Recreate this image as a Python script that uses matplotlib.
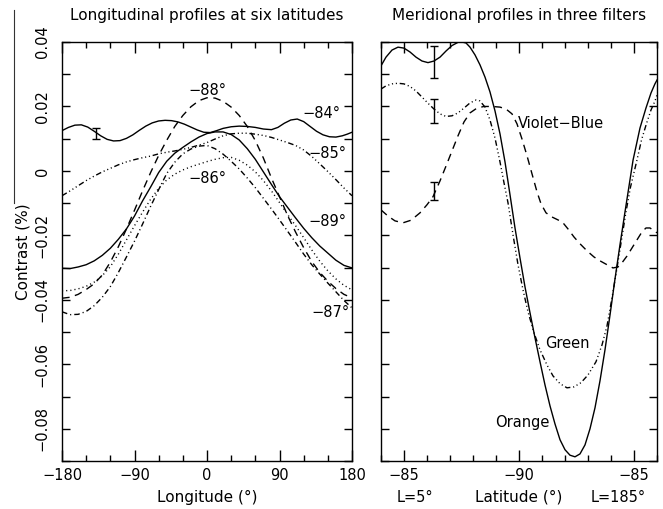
import numpy as np
import matplotlib.pyplot as plt
from matplotlib.ticker import MultipleLocator, FixedLocator, FuncFormatter
from matplotlib.lines import Line2D

# ---- longitudinal profiles: contrast vs longitude ----
lon = list(range(-180, 181, 10))

lon84 = [-180, -172, -164, -156, -148, -140, -132, -124, -116, -108, -100, -92, -84, -76,
         -68, -60, -52, -44, -36, -28, -20, -12, -4, 4, 12, 20, 30, 40, 50, 60, 70, 80,
         88, 96, 104, 112, 120, 128, 136, 144, 152, 160, 168, 174, 180]
c84 = [0.0125, 0.0135, 0.0142, 0.0143, 0.0136, 0.0123, 0.0109, 0.0098, 0.0093, 0.0094,
       0.0101, 0.0112, 0.0126, 0.0139, 0.0149, 0.0155, 0.0157, 0.0156, 0.0152, 0.0145,
       0.0136, 0.0127, 0.0120, 0.0119, 0.0125, 0.0132, 0.0137, 0.0139, 0.0138, 0.0135,
       0.0130, 0.0128, 0.0135, 0.0148, 0.0158, 0.0161, 0.0153, 0.0138, 0.0123, 0.0112,
       0.0106, 0.0105, 0.0109, 0.0114, 0.0120]

c85 = [-0.0077, -0.0062, -0.0046, -0.0030, -0.0016, -0.0003, 0.0008, 0.0019, 0.0028,
       0.0035, 0.0041, 0.0046, 0.0053, 0.0058, 0.0062, 0.0067, 0.0073, 0.0080, 0.0088,
       0.0099, 0.0109, 0.0115, 0.0117, 0.0117, 0.0114, 0.0110, 0.0104, 0.0096, 0.0088,
       0.0079, 0.0065, 0.0045, 0.0022, -0.0002, -0.0027, -0.0053, -0.0077]

c86 = [-0.0372, -0.0371, -0.0366, -0.0358, -0.0345, -0.0325, -0.0297, -0.0258, -0.0214,
       -0.0170, -0.0128, -0.0088, -0.0054, -0.0028, -0.0010, 0.0003, 0.0013, 0.0021,
       0.0029, 0.0036, 0.0041, 0.0042, 0.0033, 0.0018, -0.0003, -0.0030, -0.0062,
       -0.0098, -0.0135, -0.0170, -0.0207, -0.0245, -0.0280, -0.0310, -0.0335, -0.0355,
       -0.0369]

c87 = [-0.0437, -0.0446, -0.0445, -0.0436, -0.0418, -0.0392, -0.0359, -0.0315, -0.0267,
       -0.0218, -0.0165, -0.0110, -0.0058, -0.0008, 0.0027, 0.0053, 0.0068, 0.0077,
       0.0079, 0.0069, 0.0052, 0.0030, 0.0006, -0.0022, -0.0052, -0.0085, -0.0118,
       -0.0152, -0.0187, -0.0222, -0.0258, -0.0291, -0.0320, -0.0348, -0.0375, -0.0402,
       -0.0425]

c88 = [-0.0395, -0.0392, -0.0383, -0.0368, -0.0350, -0.0323, -0.0283, -0.0235, -0.0180,
       -0.0122, -0.0062, -0.0005, 0.0048, 0.0095, 0.0138, 0.0172, 0.0199, 0.0218, 0.0227,
       0.0226, 0.0216, 0.0198, 0.0172, 0.0138, 0.0094, 0.0040, -0.0022, -0.0080, -0.0138,
       -0.0190, -0.0238, -0.0281, -0.0315, -0.0342, -0.0365, -0.0383, -0.0394]

c89 = [-0.0302, -0.0303, -0.0298, -0.0291, -0.0279, -0.0262, -0.0240, -0.0212, -0.0180,
       -0.0140, -0.0093, -0.0050, -0.0005, 0.0030, 0.0055, 0.0073, 0.0090, 0.0105, 0.0116,
       0.0121, 0.0121, 0.0113, 0.0096, 0.0069, 0.0036, -0.0003, -0.0042, -0.0080, -0.0113,
       -0.0146, -0.0178, -0.0207, -0.0233, -0.0255, -0.0277, -0.0293, -0.0301]

# ---- meridional profiles; s = signed degrees from the pole (L=5 side negative) ----
s_orange = [-6.0, -5.783, -5.522, -5.261, -5.0, -4.739, -4.478, -4.217, -3.957, -3.696,
            -3.435, -3.174, -2.913, -2.652, -2.478, -2.304, -2.130, -1.913, -1.696,
            -1.478, -1.261, -1.043, -0.826, -0.609, -0.391, -0.174, 0.043, 0.261, 0.478,
            0.696, 0.913, 1.130, 1.348, 1.565, 1.783, 2.0, 2.217, 2.435, 2.652, 2.870,
            3.087, 3.304, 3.522, 3.739, 3.957, 4.174, 4.391, 4.609, 4.96, 5.26, 5.52,
            5.74, 5.91, 6.0]
c_orange = [0.0326, 0.0353, 0.0375, 0.0384, 0.0381, 0.0369, 0.0353, 0.0341, 0.0336,
            0.0341, 0.0353, 0.0372, 0.0389, 0.0399, 0.0400, 0.0397, 0.0384, 0.0360,
            0.0329, 0.0291, 0.0245, 0.0186, 0.0115, 0.0028, -0.0074, -0.0177, -0.0270,
            -0.0360, -0.0440, -0.0518, -0.0592, -0.0664, -0.0729, -0.0785, -0.0834,
            -0.0865, -0.0882, -0.0887, -0.0878, -0.0850, -0.0800, -0.0735, -0.0651,
            -0.0555, -0.0447, -0.0335, -0.0229, -0.0127, 0.0034, 0.0133, 0.0195, 0.0242,
            0.0270, 0.0282]

s_green = [-6.0, -5.783, -5.522, -5.261, -5.0, -4.739, -4.478, -4.217, -3.957, -3.696,
           -3.435, -3.174, -2.913, -2.652, -2.391, -2.130, -1.870, -1.696, -1.478, -1.261,
           -1.043, -0.826, -0.652, -0.478, -0.261, -0.043, 0.174, 0.391, 0.652, 0.913,
           1.217, 1.478, 1.783, 2.087, 2.391, 2.696, 3.0, 3.348, 3.609, 3.826, 4.043,
           4.261, 4.457, 4.652, 4.848, 5.130, 5.326, 5.552, 5.739, 5.913, 6.0]
c_green = [0.0254, 0.0264, 0.0270, 0.0272, 0.0270, 0.0262, 0.0248, 0.0229, 0.0210, 0.0192,
           0.0177, 0.0169, 0.0171, 0.0180, 0.0195, 0.0211, 0.0220, 0.0217, 0.0198, 0.0158,
           0.0102, 0.0028, -0.0037, -0.0099, -0.0198, -0.0291, -0.0369, -0.0437, -0.0502,
           -0.0555, -0.0602, -0.0636, -0.0660, -0.0673, -0.0670, -0.0657, -0.0633,
           -0.0592, -0.0540, -0.0481, -0.0394, -0.0301, -0.0214, -0.0127, -0.0050,
           0.0034, 0.0096, 0.0149, 0.0189, 0.0217, 0.0236]

s_vb = [-6.0, -5.696, -5.391, -5.043, -4.696, -4.304, -4.0, -3.739, -3.435, -3.174,
        -2.913, -2.652, -2.391, -2.130, -1.826, -1.522, -1.174, -0.826, -0.565, -0.304,
        -0.087, 0.130, 0.348, 0.565, 0.783, 0.957, 1.174, 1.435, 1.696, 1.913, 2.130,
        2.391, 2.652, 2.957, 3.261, 3.522, 3.826, 4.087, 4.304, 4.478, 4.696, 4.913,
        5.130, 5.348, 5.522, 5.696, 5.870, 6.0]
c_vb = [-0.0121, -0.0140, -0.0155, -0.0161, -0.0153, -0.0130, -0.0105, -0.0080, -0.0031,
        0.0015, 0.0062, 0.0109, 0.0152, 0.0180, 0.0195, 0.0200, 0.0200, 0.0198, 0.0192,
        0.0177, 0.0146, 0.0099, 0.0047, -0.0009, -0.0065, -0.0102, -0.0130, -0.0143,
        -0.0152, -0.0161, -0.0180, -0.0205, -0.0226, -0.0248, -0.0267, -0.0279, -0.0291,
        -0.0301, -0.0298, -0.0285, -0.0264, -0.0239, -0.0214, -0.0189, -0.0177, -0.0177,
        -0.0186, -0.0192]

# representative error bars
err_lon, err_lon_c, err_lon_h = -138, 0.0115, 0.0017
err_s = -3.7
err_c = [0.0338, 0.0185, -0.0061]
err_h = [0.0049, 0.0037, 0.0028]

DASH = (5.5, 4)
DOT = (0.8, 2.2)
DASHDOT = (4, 2.2, 0.8, 2.2)
DASH3DOT = (4, 2, 0.8, 2, 0.8, 2, 0.8, 2)

plt.rcParams['font.family'] = 'DejaVu Sans'
fig = plt.figure(figsize=(6.63, 5.09), dpi=100)
ax1 = fig.add_axes([62 / 663, 1 - 461 / 509, 290 / 663, 419 / 509])
ax2 = fig.add_axes([381 / 663, 1 - 461 / 509, 276 / 663, 419 / 509])

kw = dict(color='black', lw=1.0)
ax1.plot(lon84, c84, **kw)
ax1.plot(lon, c85, dashes=DASH3DOT, **kw)
ax1.plot(lon, c86, dashes=DOT, **kw)
ax1.plot(lon, c87, dashes=DASHDOT, **kw)
ax1.plot(lon, c88, dashes=DASH, **kw)
ax1.plot(lon, c89, **kw)
ax1.errorbar([err_lon], [err_lon_c], yerr=[err_lon_h], fmt='none', ecolor='black',
             elinewidth=1, capsize=3)

ax2.plot(s_orange, c_orange, **kw)
ax2.plot(s_green, c_green, dashes=DASH3DOT, **kw)
ax2.plot(s_vb, c_vb, dashes=DASH, **kw)
ax2.errorbar([err_s] * 3, err_c, yerr=err_h, fmt='none', ecolor='black',
             elinewidth=1, capsize=3)

fs = 10.5
for txt, x, y in [('\u221284\u00b0', 142, 0.0177), ('\u221285\u00b0', 149, 0.0053),
                  ('\u221286\u00b0', 0, -0.0025), ('\u221287\u00b0', 153, -0.0440),
                  ('\u221288\u00b0', 0, 0.0248), ('\u221289\u00b0', 150, -0.0158)]:
    ax1.text(x, y, txt, ha='center', va='center', fontsize=fs)
for txt, x, y in [('Violet\u2212Blue', 1.81, 0.0148), ('Green', 2.11, -0.0534),
                  ('Orange', 0.15, -0.0782)]:
    ax2.text(x, y, txt, ha='center', va='center', fontsize=fs)


def ytick_fmt(v, pos):
    if abs(v) < 1e-9:
        return '0'
    return f'{v:.2f}'.replace('-', '\u2212')


for ax in (ax1, ax2):
    ax.set_ylim(-0.09, 0.04)
    ax.yaxis.set_major_locator(MultipleLocator(0.02))
    ax.yaxis.set_minor_locator(MultipleLocator(0.01))
    ax.tick_params(which='both', direction='in', top=True, right=True, width=1)
    ax.tick_params(axis='y', which='both', length=6)
    ax.tick_params(axis='x', which='major', length=8, labelsize=fs, pad=5)
    ax.tick_params(axis='x', which='minor', length=4)
    for sp in ax.spines.values():
        sp.set_linewidth(1)

ax1.set_xlim(-180, 180)
ax1.xaxis.set_major_locator(MultipleLocator(90))
ax1.xaxis.set_minor_locator(MultipleLocator(30))
ax1.xaxis.set_major_formatter(FuncFormatter(lambda v, p: f'{v:.0f}'.replace('-', '\u2212')))
ax1.yaxis.set_major_formatter(FuncFormatter(ytick_fmt))
ax1.tick_params(axis='y', labelrotation=90, labelsize=fs, pad=9)
for lab in ax1.get_yticklabels():
    lab.set_va('center')
ax1.set_xlabel('Longitude (\u00b0)', fontsize=11, labelpad=5)
ax1.set_ylabel('Contrast (%)', fontsize=11)
ax1.yaxis.set_label_coords(-0.108, 0.5)
ax1.set_title('Longitudinal profiles at six latitudes', fontsize=11, pad=16)

ax2.set_xlim(-6, 6)
ax2.xaxis.set_major_locator(FixedLocator([-5, 0, 5]))
ax2.xaxis.set_minor_locator(MultipleLocator(1))
ax2.set_xticklabels(['\u221285', '\u221290', '\u221285'])
ax2.tick_params(axis='y', labelleft=False)
ax2.set_xlabel('Latitude (\u00b0)', fontsize=11, labelpad=5)
ax2.set_title('Meridional profiles in three filters', fontsize=11, pad=16)
xt = ax2.get_xaxis_transform()
ax2.text(-4.52, -0.087, 'L=5\u00b0', transform=xt, ha='center', va='center', fontsize=fs)
ax2.text(4.32, -0.087, 'L=185\u00b0', transform=xt, ha='center', va='center', fontsize=fs)

# thin rule along the left margin
fig.add_artist(Line2D([14 / 663, 14 / 663], [1 - 10 / 509, 1 - 203 / 509],
                      color='#333333', lw=0.8))

fig.savefig('out.png', dpi=100)
